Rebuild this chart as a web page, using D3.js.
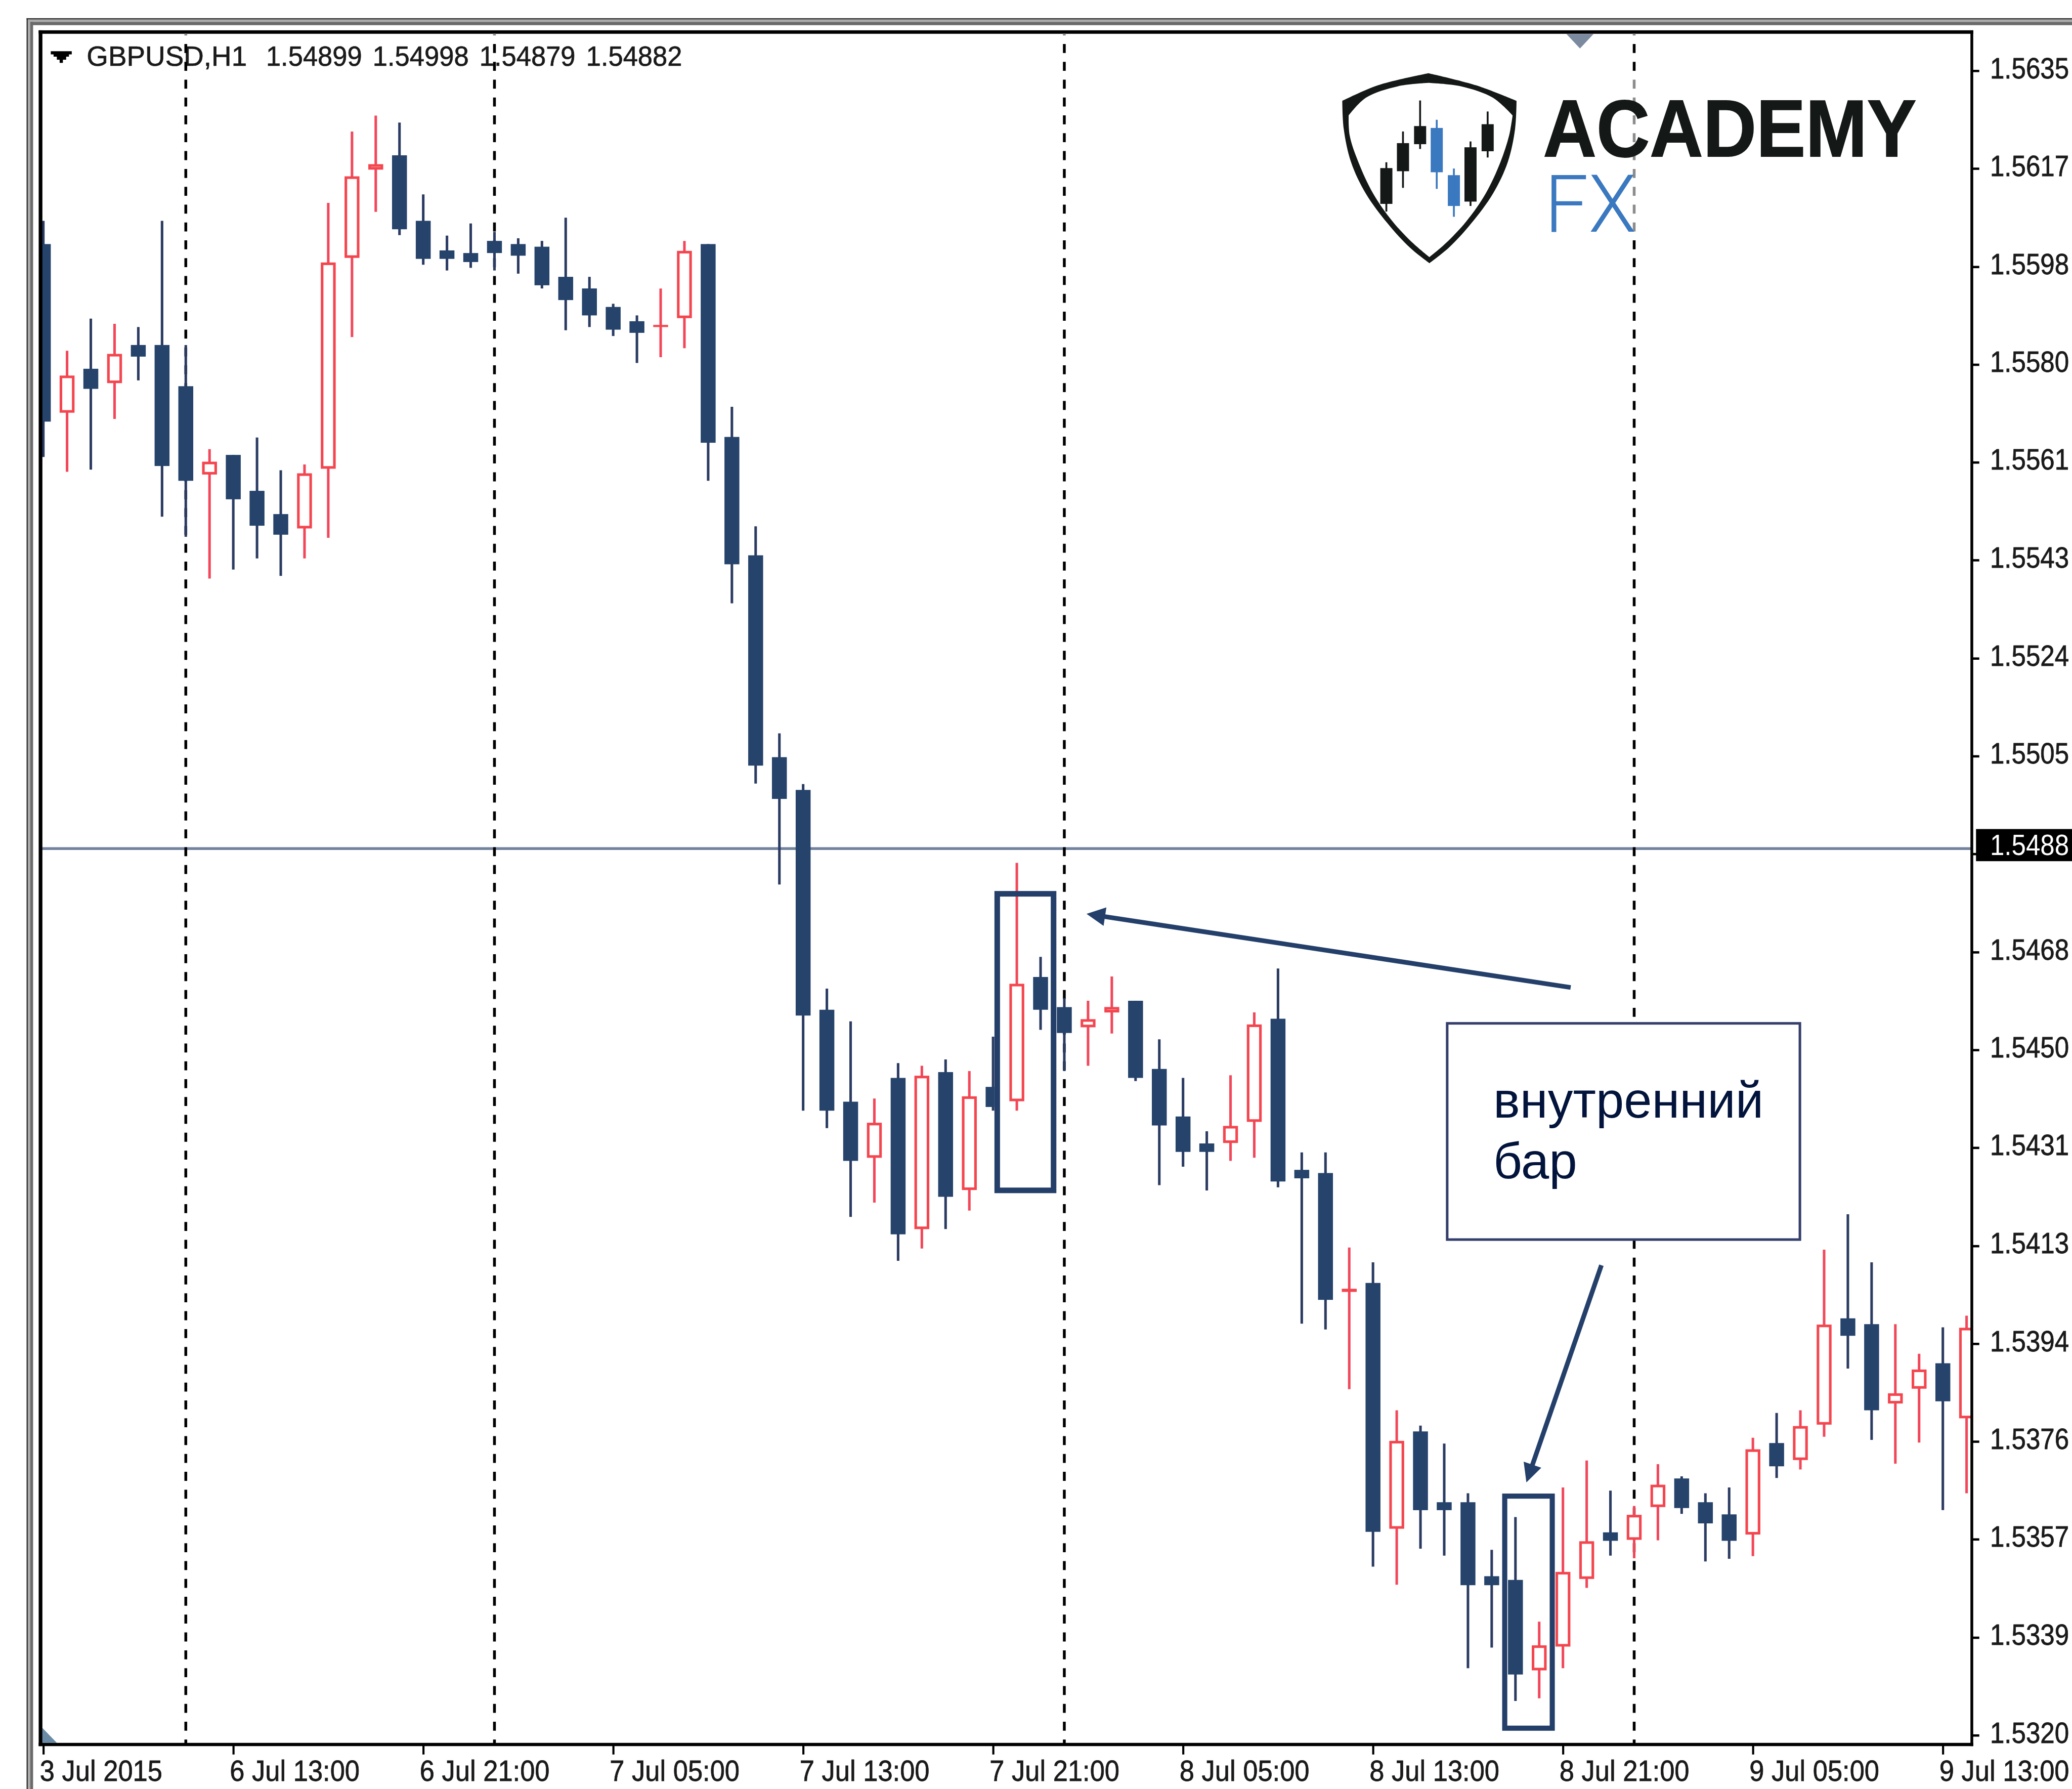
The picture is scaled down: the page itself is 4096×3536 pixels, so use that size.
<!DOCTYPE html>
<html>
<head>
<meta charset="utf-8">
<style>
html,body{margin:0;padding:0;background:#fff;overflow:hidden}
svg{display:block}
text{font-family:"Liberation Sans",Arial,sans-serif}
</style>
<script src="https://cdnjs.cloudflare.com/ajax/libs/d3/7.8.5/d3.min.js"></script>
</head>
<body>
<svg id="c" width="4096" height="3536" viewBox="0 0 4447 3839"></svg>
<script>
// ---------- data ----------
const barOpen=[1.56022,1.55703,1.55786,1.55759,1.55831,1.55831,1.55753,1.55586,1.55623,1.55555,1.55511,1.55484,1.55597,1.55996,1.56163,1.56190,1.56066,1.56010,1.56005,1.56028,1.56022,1.56017,1.55960,1.55938,1.55903,1.55876,1.55865,1.55882,1.56022,1.55657,1.55433,1.55051,1.54989,1.54573,1.54399,1.54293,1.54444,1.54158,1.54455,1.54232,1.54427,1.54400,1.54635,1.54578,1.54540,1.54568,1.54590,1.54461,1.54371,1.54320,1.54321,1.54361,1.54556,1.54270,1.54264,1.54039,1.54056,1.53591,1.53775,1.53641,1.53641,1.53501,1.53494,1.53323,1.53368,1.53496,1.53584,1.53570,1.53632,1.53686,1.53641,1.53618,1.53580,1.53753,1.53721,1.53788,1.53989,1.53978,1.53828,1.53856,1.53904,1.53800];
const barHigh=[1.56066,1.55820,1.55881,1.55871,1.55865,1.56066,1.55831,1.55634,1.55623,1.55656,1.55594,1.55605,1.56100,1.56235,1.56265,1.56252,1.56116,1.56038,1.56061,1.56045,1.56033,1.56028,1.56072,1.55960,1.55909,1.55887,1.55938,1.56028,1.56022,1.55714,1.55488,1.55096,1.55000,1.54613,1.54551,1.54405,1.54472,1.54467,1.54479,1.54457,1.54522,1.54851,1.54673,1.54595,1.54590,1.54636,1.54590,1.54517,1.54444,1.54343,1.54449,1.54568,1.54651,1.54303,1.54303,1.54123,1.54095,1.53815,1.53786,1.53752,1.53658,1.53551,1.53613,1.53415,1.53669,1.53720,1.53663,1.53634,1.53713,1.53690,1.53658,1.53669,1.53763,1.53810,1.53815,1.54119,1.54186,1.54095,1.53978,1.53922,1.53972,1.53994];
const barLow=[1.55619,1.55591,1.55595,1.55691,1.55764,1.55506,1.55468,1.55389,1.55406,1.55427,1.55394,1.55427,1.55466,1.55846,1.56083,1.56039,1.55983,1.55972,1.55977,1.55972,1.55966,1.55938,1.55859,1.55865,1.55848,1.55797,1.55808,1.55825,1.55574,1.55342,1.55001,1.54810,1.54382,1.54349,1.54181,1.54208,1.54098,1.54121,1.54158,1.54193,1.54382,1.54382,1.54535,1.54457,1.54467,1.54528,1.54438,1.54241,1.54276,1.54231,1.54287,1.54293,1.54237,1.53979,1.53968,1.53855,1.53519,1.53485,1.53553,1.53540,1.53327,1.53366,1.53265,1.53270,1.53327,1.53479,1.53540,1.53535,1.53569,1.53619,1.53529,1.53534,1.53539,1.53687,1.53703,1.53765,1.53894,1.53759,1.53714,1.53754,1.53626,1.53658];
const barClose=[1.55686,1.55773,1.55748,1.55814,1.55809,1.55602,1.55574,1.55610,1.55539,1.55489,1.55472,1.55588,1.55987,1.56150,1.56173,1.56050,1.55994,1.55994,1.55988,1.56005,1.56000,1.55944,1.55916,1.55887,1.55860,1.55854,1.55869,1.56009,1.55646,1.55416,1.55035,1.54972,1.54562,1.54382,1.54287,1.54359,1.54148,1.54448,1.54219,1.54409,1.54389,1.54622,1.54573,1.54529,1.54555,1.54578,1.54444,1.54354,1.54304,1.54304,1.54353,1.54545,1.54248,1.54254,1.54024,1.54045,1.53585,1.53757,1.53626,1.53626,1.53484,1.53484,1.53315,1.53370,1.53509,1.53567,1.53568,1.53617,1.53674,1.53630,1.53601,1.53568,1.53741,1.53709,1.53785,1.53977,1.53956,1.53815,1.53847,1.53892,1.53832,1.53971];
const timeTickBars=[0,8,16,24,32,40,48,56,64,72,80];
const timeTickLabels=["3 Jul 2015","6 Jul 13:00","6 Jul 21:00","7 Jul 05:00","7 Jul 13:00","7 Jul 21:00","8 Jul 05:00","8 Jul 13:00","8 Jul 21:00","9 Jul 05:00","9 Jul 13:00"];
const priceTicks=[1.56350,1.56165,1.55979,1.55794,1.55609,1.55424,1.55238,1.55053,1.54868,1.54682,1.54497,1.54312,1.54126,1.53941,1.53756,1.53571,1.53385,1.53200];
const priceLabels=["1.5635","1.5617","1.5598","1.5580","1.5561","1.5543","1.5524","1.5505","","1.5468","1.5450","1.5431","1.5413","1.5394","1.5376","1.5357","1.5339","1.5320"];
const separatorBars=[6,19,43,67];
const currentPriceLine=1.54878;
const currentPriceLabel="1.5488";
const headerSymbol="GBPUSD,H1";
const headerQuotes=["1.54899","1.54998","1.54879","1.54882"];
const insideBarGroupA=[41,42];
const noteLines=["внутренний","бар"];
const logoWord="ACADEMY", logoSub="FX";
// logo candles, in logo units
const logoX=[167,201,236,270,305,339,374];
const logoHigh=[780,632,483,576,810,680,536];
const logoTop=[808,688,606,615,842,708,597];
const logoBottom=[980,823,693,828,990,969,727];
const logoLow=[1017,903,716,908,1042,990,757];
const logoBlue=[false,false,false,true,true,false,false];

// ---------- scales (reference pixels, the viewBox scales them to 0.921) ----------
const x=d3.scaleLinear().domain([0,80]).range([93,4169.8]);
const y=d3.scaleLinear().domain([1.5635,1.5320]).range([151.8,3723.7]);
const lx=d3.scaleLinear().domain([0,1568]).range([2800,4447]);
const ly=d3.scaleLinear().domain([0,1568]).range([0,700]);

const BLUE="#25436b",BLUEW="#2b3b62",RED="#f4464f",REDW="#f2475a",ANN="#24406a",INK="#1a1a1a";
const svg=d3.select("#c");
svg.append("rect").attr("width",4447).attr("height",3839).attr("fill","#fff");
svg.append("defs").append("clipPath").attr("id","plot").append("rect")
  .attr("x",88).attr("y",72).attr("width",4144).attr("height",3669);

// window chrome
[[57,3,"#333"],[60,5,"#aaa"],[65,6,"#6a6a6a"]].forEach(([p,w,c])=>{
  svg.append("rect").attr("x",p).attr("y",p-18).attr("width",w).attr("height",3839).attr("fill",c);
  svg.append("rect").attr("x",p).attr("y",p-18).attr("width",4447).attr("height",w+(w==6?1:0)).attr("fill",c);
});

// header
svg.append("path").attr("d","M109 110H154V116.7H148V121.7H142V128H135V135H128V128H122V121.7H115V116.7H109Z").attr("fill","#000");
const hdrFont=61;
svg.append("text").attr("x",186).attr("y",141).attr("font-size",hdrFont).attr("fill",INK).attr("stroke",INK).attr("stroke-width",0.8)
  .attr("textLength",344).attr("lengthAdjust","spacingAndGlyphs").text(headerSymbol);
const hdrX=d3.scaleLinear().domain([0,3]).range([571,1258]);
svg.selectAll("text.q").data(headerQuotes).join("text").attr("class","q")
  .attr("x",(d,i)=>hdrX(i)).attr("y",141).attr("font-size",hdrFont).attr("fill",INK).attr("stroke",INK).attr("stroke-width",0.8)
  .attr("textLength",206).attr("lengthAdjust","spacingAndGlyphs").text(d=>d);

const plot=svg.append("g").attr("clip-path","url(#plot)");

// price line
plot.append("line").attr("x1",88).attr("x2",4232).attr("y1",y(currentPriceLine)).attr("y2",y(currentPriceLine))
  .attr("stroke","#72839e").attr("stroke-width",6);
// period separators
plot.selectAll("line.sep").data(separatorBars).join("line").attr("class","sep")
  .attr("x1",d=>x(d)).attr("x2",d=>x(d)).attr("y1",74).attr("y2",3741)
  .attr("stroke","#000").attr("stroke-width",6).attr("stroke-dasharray","19.3 19").attr("stroke-dashoffset",17.9);

const bars=barOpen.map((o,i)=>({i,o,h:barHigh[i],l:barLow[i],c:barClose[i]}));
function drawBars(parent,data){
  const g=parent.append("g");
  g.selectAll("line").data(data).join("line")
    .attr("x1",d=>x(d.i)).attr("x2",d=>x(d.i))
    .attr("y1",d=>y(d.h)).attr("y2",d=>y(d.l))
    .attr("stroke",d=>d.c>d.o?REDW:BLUEW).attr("stroke-width",5.5);
  g.selectAll("rect").data(data).join("rect")
    .each(function(d){
      const top=y(Math.max(d.o,d.c)),bot=y(Math.min(d.o,d.c)),bull=d.c>d.o,sel=d3.select(this);
      if(bull&&bot-top>=11){
        sel.attr("x",x(d.i)-13.2).attr("width",26.4).attr("y",top+2.6).attr("height",bot-top-5.2)
           .attr("fill","#fff").attr("stroke",RED).attr("stroke-width",5.6);
      }else{
        sel.attr("x",x(d.i)-16).attr("width",32).attr("y",top).attr("height",Math.max(bot-top,4.5))
           .attr("fill",bull?RED:BLUE);
      }
    });
}
drawBars(plot,bars.filter(d=>!insideBarGroupA.includes(d.i)));
// first highlighted box: white interior hides its neighbours, then its own candles on top
const boxA={x0:2134.3,x1:2267.2,y0:1912,y1:2560.4};
plot.append("rect").attr("x",boxA.x0).attr("y",boxA.y0).attr("width",boxA.x1-boxA.x0).attr("height",boxA.y1-boxA.y0).attr("fill","#fff");
drawBars(plot,bars.filter(d=>insideBarGroupA.includes(d.i)));
plot.append("rect").attr("x",boxA.x0+6).attr("y",boxA.y0+6).attr("width",boxA.x1-boxA.x0-12).attr("height",boxA.y1-boxA.y0-12)
  .attr("fill","none").attr("stroke",ANN).attr("stroke-width",12);
const boxB={x0:3224,x1:3337,y0:3205,y1:3714};
plot.append("rect").attr("x",boxB.x0+5.5).attr("y",boxB.y0+5.5).attr("width",boxB.x1-boxB.x0-11).attr("height",boxB.y1-boxB.y0-11)
  .attr("fill","none").attr("stroke",ANN).attr("stroke-width",11);

// note box
svg.append("rect").attr("x",3106).attr("y",2196).attr("width",757).attr("height",464)
  .attr("fill","#fff").attr("stroke","#353f6b").attr("stroke-width",5.5);
svg.append("text").attr("x",3205).attr("y",2398).attr("font-size",108).attr("fill","#02133c")
  .attr("textLength",580).attr("lengthAdjust","spacingAndGlyphs").text(noteLines[0]);
svg.append("text").attr("x",3205).attr("y",2528.6).attr("font-size",108).attr("fill","#02133c")
  .attr("textLength",180).attr("lengthAdjust","spacingAndGlyphs").text(noteLines[1]);

// arrows
function arrow(x1,y1,x2,y2){
  const a=Math.atan2(y2-y1,x2-x1),L=40,W=20,c=Math.cos(a),s=Math.sin(a);
  svg.append("line").attr("x1",x1).attr("y1",y1).attr("x2",x2-c*20).attr("y2",y2-s*20).attr("stroke",ANN).attr("stroke-width",10);
  svg.append("path").attr("d",`M${x2} ${y2}L${x2-L*c-W*s} ${y2-L*s+W*c}L${x2-L*c+W*s} ${y2-L*s-W*c}Z`).attr("fill",ANN);
}
arrow(3371,2119,2332,1961);
arrow(3437,2715,3276,3181);

// markers
svg.append("path").attr("d","M3362 73H3420L3391 104Z").attr("fill","#7b8a9f");
svg.append("path").attr("d","M91 3708L122 3740H91Z").attr("fill","#6a8ba6");

// frame
const frame=[[83,65,8,3682],[83,65,4152,7.5],[4229,65,6,3682],[83,3740,4152,7]];
svg.selectAll("rect.frame").data(frame).join("rect").attr("class","frame")
  .attr("x",d=>d[0]).attr("y",d=>d[1]).attr("width",d=>d[2]).attr("height",d=>d[3]).attr("fill","#000");

// axes
const axY=svg.append("g").attr("transform","translate(4232,0)")
  .call(d3.axisRight(y).tickValues(priceTicks).tickSize(16).tickFormat((d,i)=>priceLabels[i]));
axY.select(".domain").remove();
axY.selectAll("line").attr("stroke","#000").attr("stroke-width",5);
axY.selectAll("text").attr("x",0).attr("y",0).attr("dy",0).attr("font-size",55.5).attr("font-family",null)
  .attr("transform","translate(39,15.5) scale(1,1.12)")
  .attr("fill",INK).attr("stroke",INK).attr("stroke-width",0.8);
const axX=svg.append("g").attr("transform","translate(0,3745)")
  .call(d3.axisBottom(x).tickValues(timeTickBars).tickSize(20).tickFormat((d,i)=>timeTickLabels[i]));
axX.select(".domain").remove();
axX.selectAll("line").attr("stroke","#000").attr("stroke-width",4.5);
axX.selectAll("text").attr("text-anchor","start").attr("x",0).attr("y",0).attr("dy",0).attr("font-size",57)
  .attr("transform","translate(-8,77) scale(1,1.08)")
  .attr("font-family",null).attr("fill",INK).attr("stroke",INK).attr("stroke-width",0.8);

// current price badge
svg.append("rect").attr("x",4241).attr("y",1779).attr("width",206).attr("height",69).attr("fill","#000");
svg.append("text").attr("transform","translate(4271,1835) scale(1,1.12)").attr("font-size",55.5).attr("fill","#fff").text(currentPriceLabel);

// logo
const logo=svg.append("g");
logo.append("rect").attr("x",3498).attr("y",160).attr("width",16).attr("height",345).attr("fill","#fff").attr("opacity",0.55);
const lc=d3.line().x(d=>lx(d[0])).y(d=>ly(d[1])).curve(d3.curveCatmullRom);
const seg=(pts)=>lc(pts).slice(1); // continues the current sub-path
const shieldOuter=[
  [[253,352],[350,410],[433,485]],
  [[433,485],[430,620],[415,780],[385,930],[340,1075],[295,1190],[255,1265]],
  [[255,1265],[215,1190],[170,1075],[125,930],[95,780],[80,620],[77,485]],
  [[77,485],[150,410],[253,352]]];
const shieldInner=[
  [[253,398],[320,415],[385,470],[425,555]],
  [[425,555],[418,650],[400,780],[370,930],[330,1065],[288,1170],[255,1236]],
  [[255,1236],[222,1170],[180,1065],[140,930],[110,780],[92,650],[90,555]],
  [[90,555],[125,470],[190,415],[253,398]]];
const contour=s=>"M"+s.map(seg).join("L")+"Z";
logo.append("path").attr("d",contour(shieldOuter)+contour(shieldInner)).attr("fill","#141816").attr("fill-rule","evenodd");
logo.selectAll("line.lw").data(logoX).join("line").attr("class","lw")
  .attr("x1",d=>lx(d)).attr("x2",d=>lx(d)).attr("y1",(d,i)=>ly(logoHigh[i])).attr("y2",(d,i)=>ly(logoLow[i]))
  .attr("stroke",(d,i)=>logoBlue[i]?"#3a78c0":"#141816").attr("stroke-width",4);
logo.selectAll("rect.lb").data(logoX).join("rect").attr("class","lb")
  .attr("x",d=>lx(d)-13).attr("width",26).attr("y",(d,i)=>ly(logoTop[i])).attr("height",(d,i)=>ly(logoBottom[i])-ly(logoTop[i]))
  .attr("fill",(d,i)=>logoBlue[i]?"#3a78c0":"#141816");
logo.append("text").attr("x",3312).attr("y",335).attr("font-size",174).attr("font-weight",700).attr("fill","#141816")
  .attr("stroke","#141816").attr("stroke-width",2).attr("textLength",801).attr("lengthAdjust","spacingAndGlyphs").text(logoWord);
logo.append("text").attr("x",3315).attr("y",497).attr("font-size",172).attr("font-weight",300).attr("fill","#3a78c0")
  .style("font-family","Roboto").attr("textLength",197).attr("lengthAdjust","spacingAndGlyphs").text(logoSub);
</script>
</body>
</html>
